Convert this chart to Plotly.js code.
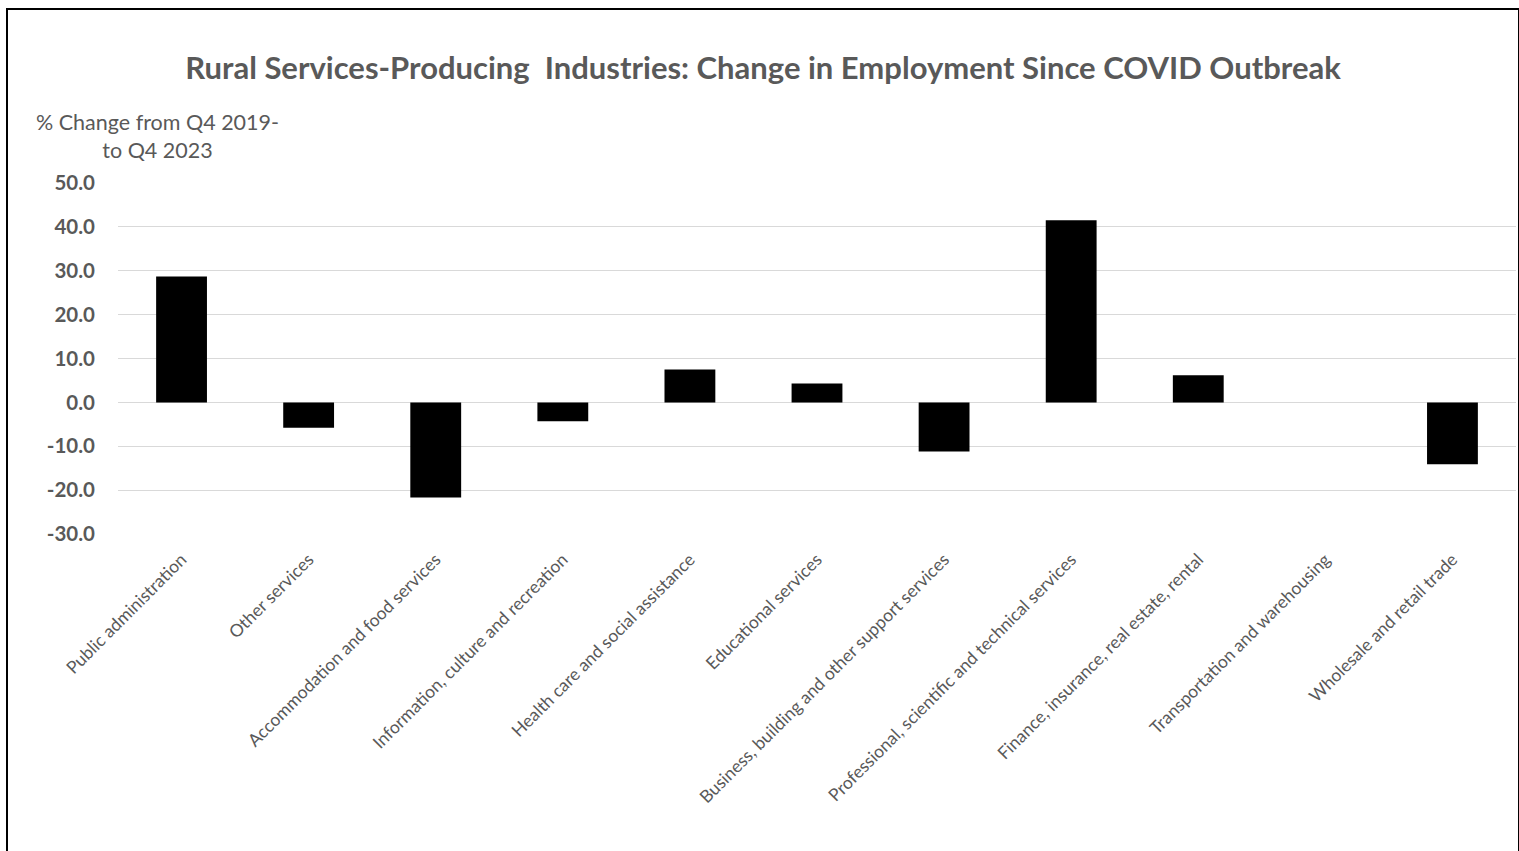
<!DOCTYPE html>
<html>
<head>
<meta charset="utf-8">
<script src="https://cdn.plot.ly/plotly-3.0.1.min.js"></script>
<style>
html,body{margin:0;padding:0;background:#fff;overflow:hidden;}
#chart{position:absolute;left:0;top:0;width:1519px;height:851px;}
#frame{position:absolute;left:6px;top:8px;width:1510px;height:900px;border:2px solid #000;pointer-events:none;}
</style>
</head>
<body>
<div id="chart"></div>
<div id="frame"></div>
<script>
const categories = [
  "Public administration",
  "Other services",
  "Accommodation and food services",
  "Information, culture and recreation",
  "Health care and social assistance",
  "Educational services",
  "Business, building and other support services",
  "Professional, scientific and technical services",
  "Finance, insurance, real estate, rental",
  "Transportation and warehousing",
  "Wholesale and retail trade"
];
const values = [28.7, -5.8, -21.7, -4.3, 7.5, 4.3, -11.2, 41.5, 6.2, 0.0, -14.1];
const yTicks = [50, 40, 30, 20, 10, 0, -10, -20, -30];
const yTickLabels = ["50.0", "40.0", "30.0", "20.0", "10.0", "0.0", "-10.0", "-20.0", "-30.0"];

const titleText = "Rural Services-Producing  Industries: Change in Employment Since COVID Outbreak";
const yTitleText = "% Change from Q4 2019-<br>to Q4 2023";

const fontFam = "Lato, 'Open Sans', sans-serif";
const grey = "#595959";

const data = [{
  type: "bar",
  x: categories,
  y: values,
  marker: {color: "#000000", line: {width: 0}},
  hoverinfo: "x+y"
}];

const layout = {
  width: 1519, height: 851,
  paper_bgcolor: "rgba(0,0,0,0)",
  plot_bgcolor: "#ffffff",
  margin: {l: 118, r: 3, t: 183, b: 317},
  bargap: 0.6,
  showlegend: false,
  title: {
    text: "<b>" + titleText + "</b>",
    font: {family: fontFam, size: 31, color: grey},
    x: 763 / 1519, xref: "container", xanchor: "center",
    y: 1 - 68 / 851, yref: "container", yanchor: "middle"
  },
  xaxis: {
    type: "category",
    tickangle: -45,
    tickfont: {family: fontFam, size: 17.5, color: grey},
    showgrid: false,
    showline: false,
    ticks: "",
    ticklabelstandoff: 11,
    automargin: false
  },
  yaxis: {
    range: [-30, 50],
    tickvals: yTicks,
    ticktext: yTickLabels,
    tickfont: {family: fontFam, size: 20.5, color: grey, weight: "bold"},
    showgrid: true,
    gridcolor: "#d9d9d9",
    gridwidth: 1,
    zeroline: true,
    zerolinecolor: "#d9d9d9",
    zerolinewidth: 1,
    showline: false,
    ticks: "",
    ticklabelstandoff: 22,
    automargin: false
  },
  annotations: [{
    text: yTitleText,
    xref: "paper", yref: "paper",
    x: (157 - 118) / 1398, y: 1.05,
    xanchor: "center", yanchor: "bottom",
    showarrow: false,
    align: "center",
    font: {family: fontFam, size: 21.5, color: grey}
  }]
};

Plotly.newPlot("chart", data, layout, {displayModeBar: false, staticPlot: true});
</script>
</body>
</html>
